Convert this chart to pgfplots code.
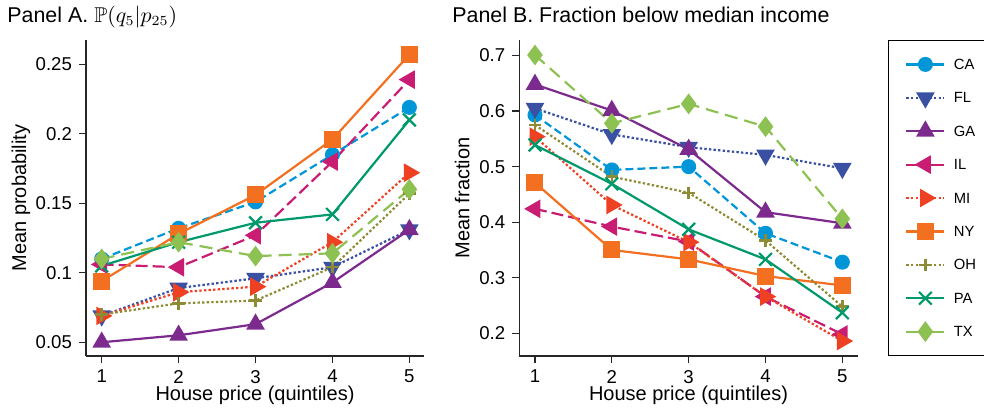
\documentclass[border=0pt]{standalone}
\usepackage{amssymb}
\usepackage{pgfplots}
\pgfplotsset{compat=1.18}
\usepackage{fontspec}
\setmainfont{Liberation Sans}

\definecolor{cCA}{RGB}{0,150,216}
\definecolor{cFL}{RGB}{58,80,162}
\definecolor{cGA}{RGB}{125,42,143}
\definecolor{cIL}{RGB}{200,29,115}
\definecolor{cMI}{RGB}{238,64,35}
\definecolor{cNY}{RGB}{243,112,33}
\definecolor{cOH}{RGB}{142,139,53}
\definecolor{cPA}{RGB}{0,153,107}
\definecolor{cTX}{RGB}{141,193,82}

\pgfplotsset{
  sCA/.style={color=cCA, line width=1.1pt, dash pattern=on 4pt off 2pt, mark=*, mark size=3.2pt, mark options={solid}},
  sFL/.style={color=cFL, line width=1.1pt, dash pattern=on 1.2pt off 1.1pt, mark=triangle*, mark size=4.3pt, mark options={solid, rotate=180}},
  sGA/.style={color=cGA, line width=1.1pt, solid, mark=triangle*, mark size=4.3pt, mark options={solid}},
  sIL/.style={color=cIL, line width=1.1pt, dash pattern=on 6pt off 2.5pt, mark=triangle*, mark size=4.3pt, mark options={solid, rotate=90}},
  sMI/.style={color=cMI, line width=1.1pt, dash pattern=on 1.2pt off 1.1pt, mark=triangle*, mark size=4.3pt, mark options={solid, rotate=-90}},
  sNY/.style={color=cNY, line width=1.1pt, solid, mark=square*, mark size=3.7pt, mark options={solid}},
  sOH/.style={color=cOH, line width=1.1pt, dash pattern=on 1.2pt off 1.1pt, mark=+, mark size=3.1pt, mark options={solid, line width=1.2pt}},
  sPA/.style={color=cPA, line width=1.1pt, solid, mark=x, mark size=4.5pt, mark options={solid, line width=1.1pt}},
  sTX/.style={color=cTX, line width=1.1pt, dash pattern=on 6.5pt off 3.5pt, mark=diamond*, mark size=4.3pt, mark options={solid}},
  panel/.style={
    scale only axis, width=169pt, height=158pt,
    axis x line*=bottom, axis y line*=left,
    axis line style={black!85, line width=0.6pt},
    every tick/.style={black!85, line width=0.6pt},
    tick align=outside, major tick length=3.5pt,
    xmin=0.796, xmax=5.19,
    xtick={1,2,3,4,5}, xticklabels={1,2,3,4,5},
    tick label style={font=\fontsize{9.3}{11}\selectfont},
    label style={font=\fontsize{10.1}{12}\selectfont},
    every axis title/.style={font=\fontsize{10.7}{12}\selectfont, anchor=base west, inner sep=0pt},
    xlabel={House price (quintiles)},
    every axis x label/.style={at={(axis description cs:0.5,-0.142)}, anchor=base},
    clip=false,
  },
}

\begin{document}
\begin{tikzpicture}
\useasboundingbox (0,0) rectangle (492pt,204.5pt);

% Panel A: probability of top-quintile outcome
\begin{axis}[panel, at={(43pt,26.5pt)}, anchor=south west,
  ymin=0.0401, ymax=0.2675,
  ytick={0.05,0.1,0.15,0.2,0.25}, yticklabels={0.05,0.1,0.15,0.2,0.25},
  ylabel={Mean probability},
  every axis y label/.style={at={(axis description cs:-0.1775,0.5)}, rotate=90, anchor=base},
  title={Panel A. $\mathbb{P}(q_5|p_{25})$},
  title style={at={(axis description cs:-0.2337,1.055)}},
]
\addplot[sCA] coordinates {(1,0.110) (2,0.132) (3,0.151) (4,0.185) (5,0.219)};
\addplot[sFL] coordinates {(1,0.069) (2,0.089) (3,0.096) (4,0.104) (5,0.131)};
\addplot[sGA] coordinates {(1,0.050) (2,0.055) (3,0.063) (4,0.093) (5,0.131)};
\addplot[sIL] coordinates {(1,0.106) (2,0.104) (3,0.127) (4,0.180) (5,0.239)};
\addplot[sMI] coordinates {(1,0.069) (2,0.086) (3,0.090) (4,0.122) (5,0.172)};
\addplot[sNY] coordinates {(1,0.094) (2,0.128) (3,0.156) (4,0.196) (5,0.257)};
\addplot[sOH] coordinates {(1,0.070) (2,0.078) (3,0.080) (4,0.104) (5,0.157)};
\addplot[sPA] coordinates {(1,0.105) (2,0.122) (3,0.136) (4,0.142) (5,0.210)};
\addplot[sTX] coordinates {(1,0.110) (2,0.122) (3,0.112) (4,0.114) (5,0.160)};
\end{axis}

% Panel B: share of households below median income
\begin{axis}[panel, at={(259.65pt,26.5pt)}, anchor=south west,
  width=169.2pt, xmax=5.2,
  ymin=0.159, ymax=0.728,
  ytick={0.2,0.3,0.4,0.5,0.6,0.7}, yticklabels={0.2,0.3,0.4,0.5,0.6,0.7},
  ylabel={Mean fraction},
  every axis y label/.style={at={(axis description cs:-0.1478,0.5)}, rotate=90, anchor=base},
  title={Panel B. Fraction below median income},
  title style={at={(axis description cs:-0.1989,1.055)}},
  legend image code/.code={%
    \draw[mark repeat=2, mark phase=2] plot coordinates {(0pt,0pt) (9.5pt,0pt) (19pt,0pt)};
    \path[draw=none, fill=none] (-4.5pt,-0.5pt) -- (-4.5pt,0.5pt);},
  legend style={at={(axis description cs:1.0895,1)}, anchor=north west,
    draw=black, fill=white,
    inner xsep=4.5pt, inner ysep=7.5pt, row sep=7.7pt, column sep=4.2pt,
    font=\fontsize{7.4}{8}\selectfont,
    nodes={inner sep=0pt, text height=7pt, text depth=2pt},
    cells={anchor=west}},
]
\addlegendimage{sCA, solid}
\addlegendimage{sFL}
\addlegendimage{sGA}
\addlegendimage{sIL, solid}
\addlegendimage{sMI}
\addlegendimage{sNY}
\addlegendimage{sOH}
\addlegendimage{sPA}
\addlegendimage{sTX, solid}
\legend{CA,FL,GA,IL,MI,NY,OH,PA,TX}
\addplot[sCA, forget plot] coordinates {(1,0.593) (2,0.494) (3,0.500) (4,0.380) (5,0.328)};
\addplot[sFL, forget plot] coordinates {(1,0.605) (2,0.558) (3,0.535) (4,0.521) (5,0.497)};
\addplot[sGA, forget plot] coordinates {(1,0.648) (2,0.601) (3,0.531) (4,0.418) (5,0.398)};
\addplot[sIL, forget plot] coordinates {(1,0.424) (2,0.392) (3,0.365) (4,0.266) (5,0.198)};
\addplot[sMI, forget plot] coordinates {(1,0.554) (2,0.431) (3,0.364) (4,0.266) (5,0.186)};
\addplot[sNY, forget plot] coordinates {(1,0.471) (2,0.350) (3,0.333) (4,0.303) (5,0.286)};
\addplot[sOH, forget plot] coordinates {(1,0.575) (2,0.482) (3,0.453) (4,0.367) (5,0.248)};
\addplot[sPA, forget plot] coordinates {(1,0.539) (2,0.469) (3,0.387) (4,0.333) (5,0.237)};
\addplot[sTX, forget plot] coordinates {(1,0.701) (2,0.578) (3,0.613) (4,0.572) (5,0.406)};
\end{axis}
\end{tikzpicture}
\end{document}
